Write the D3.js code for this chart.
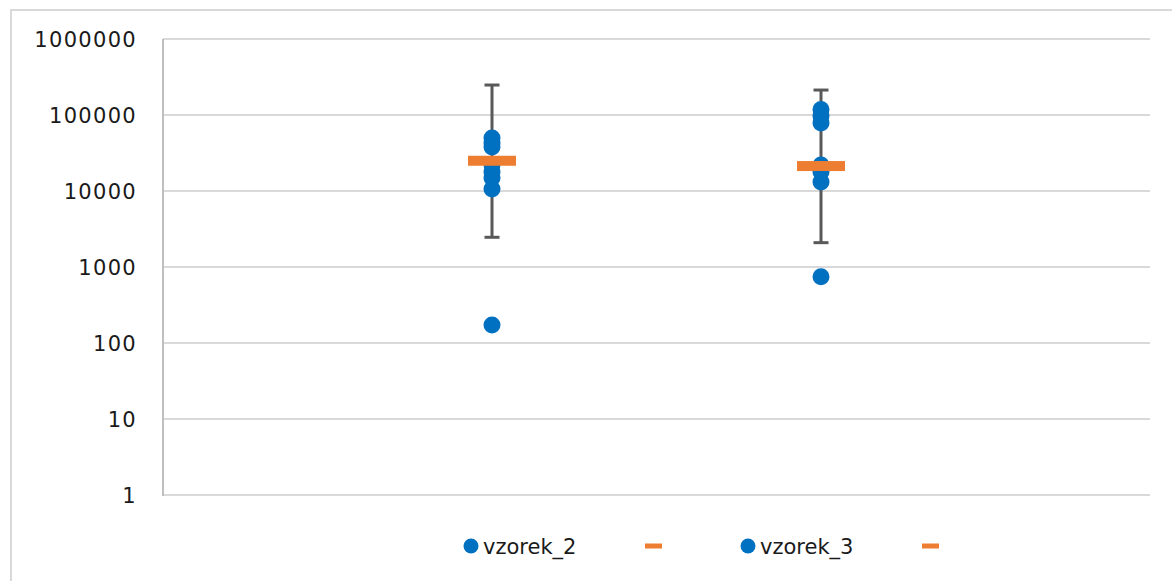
<!DOCTYPE html>
<html>
<head>
<meta charset="utf-8">
<script src="https://cdn.jsdelivr.net/npm/d3@7"></script>
<style>
  body { margin: 0; background: #fff; }
  text { font-family: "DejaVu Sans", sans-serif; fill: #1a1a1a; }
</style>
</head>
<body>
<div id="chart"></div>
<script>
// values (log axis)
const series = ['vzorek_2', 'vzorek_3'];
const xPos = [1, 2];
const points2 = [49800, 42800, 37900, 22000, 17800, 14800, 10600, 173];
const points3 = [118000, 97000, 78500, 22000, 17800, 13100, 745];
const means = [25000, 21300];
const whiskerHigh = [248000, 213000];
const whiskerLow = [2460, 2090];
const yTicks = [1, 10, 100, 1000, 10000, 100000, 1000000];

const W = 1172, H = 581;
const svg = d3.select('#chart').append('svg')
  .attr('width', W)
  .attr('height', H);

// outer chart border (cut off at right/bottom)
svg.append('rect')
  .attr('x', 11).attr('y', 10)
  .attr('width', 1300).attr('height', 700)
  .attr('fill', 'none')
  .attr('stroke', '#d9d9d9')
  .attr('stroke-width', 2);

const x = d3.scaleLinear().domain([0, 3]).range([163, 1150]);
const y = d3.scaleLog().domain([1, 1e6]).range([495, 39]);

//gridlines
svg.append('g').selectAll('line')
  .data(yTicks)
  .join('line')
  .attr('x1', x(0)).attr('x2', x(3))
  .attr('y1', d => y(d)).attr('y2', d => y(d))
  .attr('stroke', '#d9d9d9')
  .attr('stroke-width', 2);

// left axis line
svg.append('line')
  .attr('x1', x(0)).attr('x2', x(0))
  .attr('y1', y(1e6)).attr('y2', y(1) + 1)
  .attr('stroke', '#bfbfbf')
  .attr('stroke-width', 2);

// tick labels
svg.append('g').selectAll('text')
  .data(yTicks)
  .join('text')
  .attr('x', 137)
  .attr('y', d => y(d))
  .attr('dy', '0.36em')
  .attr('text-anchor', 'end')
  .attr('font-size', 21)
  .attr('letter-spacing', 1.3)
  .text(d => d3.format('d')(d));

const errG = svg.append('g');
series.forEach((s, i) => {
  const cx = x(xPos[i]);
  errG.append('line')
    .attr('x1', cx).attr('x2', cx)
    .attr('y1', y(whiskerHigh[i])).attr('y2', y(whiskerLow[i]))
    .attr('stroke', '#595959').attr('stroke-width', 3);
  [whiskerHigh[i], whiskerLow[i]].forEach(v => {
    errG.append('line')
      .attr('x1', cx - 7.5).attr('x2', cx + 7.5)
      .attr('y1', y(v)).attr('y2', y(v))
      .attr('stroke', '#595959').attr('stroke-width', 3);
  });
});

// points
const allPoints = [points2, points3];
allPoints.forEach((pts, i) => {
  svg.append('g').selectAll('circle')
    .data(pts)
    .join('circle')
    .attr('cx', x(xPos[i]))
    .attr('cy', d => y(d))
    .attr('r', 8.5)
    .attr('fill', '#0070c0');
});

// mean bars
svg.append('g').selectAll('rect')
  .data(means)
  .join('rect')
  .attr('x', (d, i) => x(xPos[i]) - 24)
  .attr('y', d => y(d) - 5)
  .attr('width', 48)
  .attr('height', 10)
  .attr('fill', '#ed7d31');

// legend
const legX = [471, 748];
const leg = svg.append('g');
series.forEach((s, i) => {
  leg.append('circle')
    .attr('cx', legX[i]).attr('cy', 546).attr('r', 7.5)
    .attr('fill', '#0070c0');
  leg.append('text')
    .attr('x', legX[i] + 12).attr('y', 554)
    .attr('font-size', 21)
    .text(s);
  leg.append('rect')
    .attr('x', legX[i] + 174).attr('y', 543.5)
    .attr('width', 17).attr('height', 5)
    .attr('fill', '#ed7d31');
});
</script>
</body>
</html>
